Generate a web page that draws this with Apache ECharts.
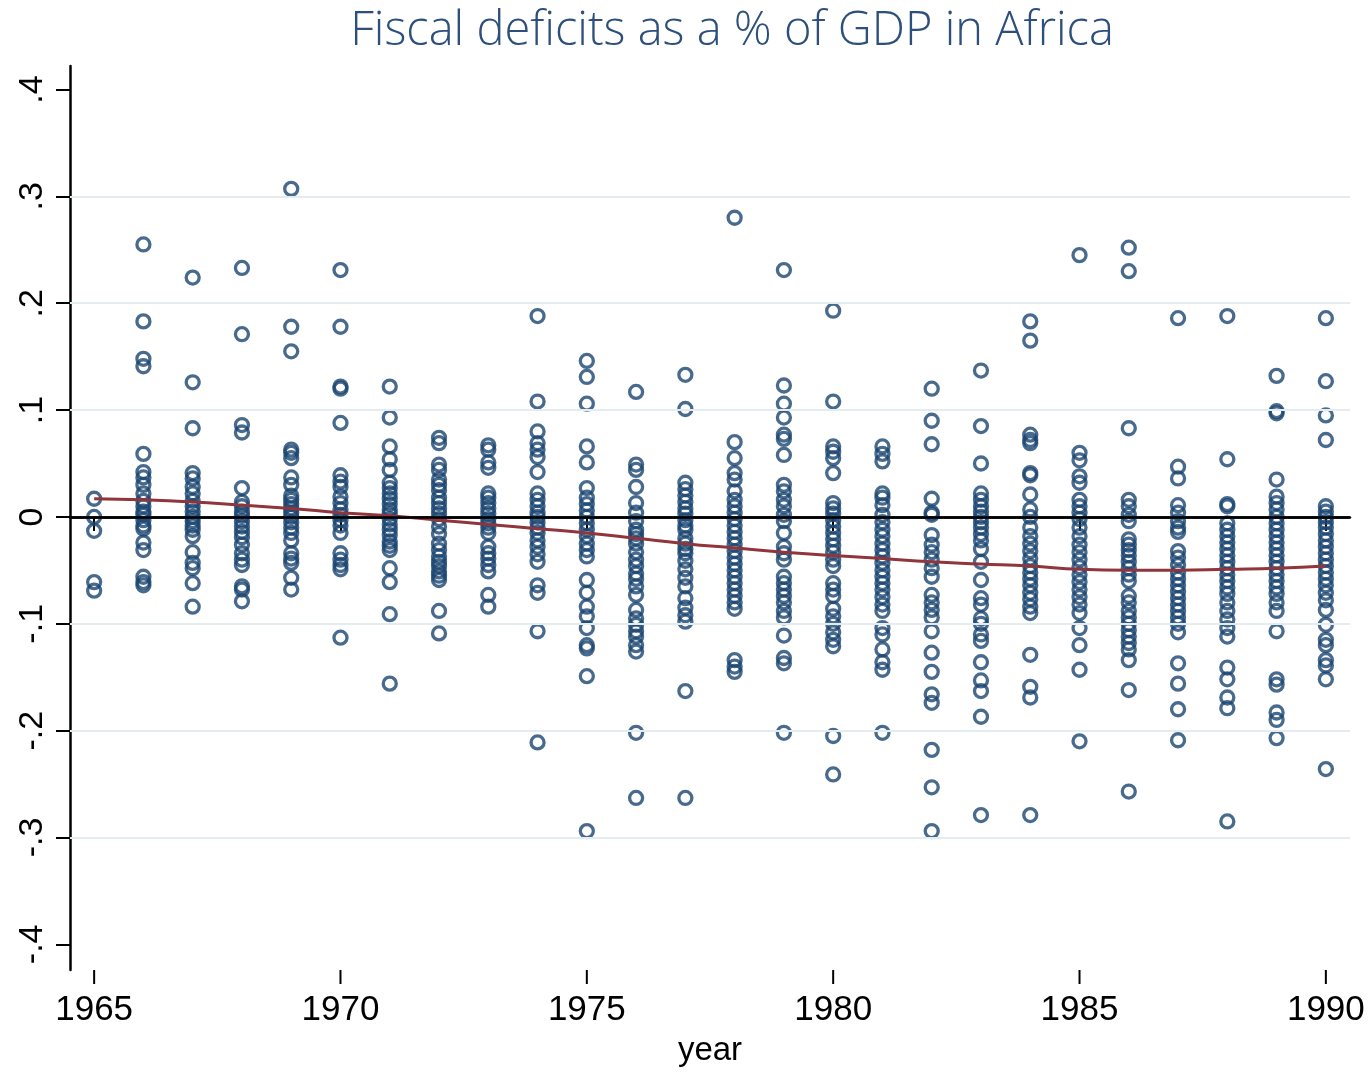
<!DOCTYPE html>
<html>
<head>
<meta charset="utf-8">
<script src="https://cdn.jsdelivr.net/npm/echarts@6/dist/echarts.min.js"></script>
<style>
  html, body { margin: 0; padding: 0; background: #fff; }
  #chart { width: 1371px; height: 1073px; }
</style>
</head>
<body>
<div id="chart"></div>
<script>
// years on the x axis
const years = [1965, 1966, 1967, 1968, 1969, 1970, 1971, 1972, 1973, 1974, 1975, 1976, 1977,
  1978, 1979, 1980, 1981, 1982, 1983, 1984, 1985, 1986, 1987, 1988, 1989, 1990]

// one list of country deficits (share of GDP) per year
const deficits = [
  [0.017, 0, -0.013, -0.061, -0.069],
  [0.255, 0.183, 0.148, 0.141, 0.059, 0.042, 0.037, 0.030, 0.022, 0.015, 0.010, 0.005, 0.002, -0.003, -0.008, -0.011, -0.024, -0.031, -0.056, -0.061, -0.064],
  [0.224, 0.126, 0.083, 0.041, 0.036, 0.028, 0.022, 0.015, 0.010, 0.005, 0.000, -0.004, -0.008, -0.012, -0.018, -0.033, -0.043, -0.048, -0.062, -0.084],
  [0.233, 0.171, 0.086, 0.079, 0.027, 0.014, 0.010, 0.005, 0.001, -0.004, -0.009, -0.014, -0.019, -0.026, -0.034, -0.040, -0.045, -0.065, -0.068, -0.079],
  [0.307, 0.178, 0.155, 0.063, 0.060, 0.055, 0.037, 0.030, 0.020, 0.016, 0.012, 0.008, 0.004, 0.000, -0.005, -0.010, -0.015, -0.022, -0.034, -0.039, -0.043, -0.057, -0.068],
  [0.231, 0.178, 0.122, 0.120, 0.088, 0.039, 0.033, 0.028, 0.019, 0.013, 0.007, 0.002, -0.003, -0.008, -0.015, -0.034, -0.040, -0.045, -0.049, -0.113],
  [0.122, 0.093, 0.066, 0.054, 0.044, 0.032, 0.027, 0.022, 0.017, 0.012, 0.007, 0.003, -0.002, -0.007, -0.012, -0.017, -0.023, -0.027, -0.031, -0.048, -0.061, -0.091, -0.156],
  [0.074, 0.069, 0.049, 0.044, 0.035, 0.030, 0.025, 0.018, 0.013, 0.008, 0.003, -0.002, -0.009, -0.016, -0.025, -0.031, -0.037, -0.042, -0.046, -0.051, -0.055, -0.059, -0.088, -0.109],
  [0.067, 0.063, 0.051, 0.046, 0.022, 0.018, 0.013, 0.008, 0.003, -0.002, -0.006, -0.010, -0.015, -0.028, -0.034, -0.039, -0.045, -0.051, -0.073, -0.084],
  [0.188, 0.108, 0.080, 0.069, 0.063, 0.056, 0.042, 0.022, 0.016, 0.010, 0.004, 0.000, -0.005, -0.010, -0.015, -0.022, -0.028, -0.035, -0.042, -0.064, -0.071, -0.107, -0.211],
  [0.146, 0.131, 0.106, 0.066, 0.051, 0.027, 0.018, 0.012, 0.006, 0.000, -0.006, -0.012, -0.018, -0.025, -0.031, -0.037, -0.059, -0.071, -0.084, -0.093, -0.104, -0.120, -0.123, -0.149, -0.294],
  [0.117, 0.049, 0.044, 0.028, 0.013, 0.004, -0.004, -0.012, -0.016, -0.020, -0.025, -0.033, -0.040, -0.046, -0.053, -0.058, -0.065, -0.073, -0.087, -0.095, -0.101, -0.107, -0.112, -0.120, -0.126, -0.202, -0.263],
  [0.133, 0.101, 0.032, 0.026, 0.020, 0.014, 0.008, 0.003, -0.003, -0.008, -0.012, -0.020, -0.025, -0.030, -0.034, -0.041, -0.049, -0.057, -0.065, -0.076, -0.085, -0.092, -0.098, -0.163, -0.263],
  [0.280, 0.070, 0.055, 0.041, 0.035, 0.024, 0.016, 0.010, 0.004, -0.002, -0.008, -0.014, -0.020, -0.026, -0.032, -0.038, -0.044, -0.050, -0.056, -0.062, -0.068, -0.074, -0.080, -0.086, -0.134, -0.140, -0.145],
  [0.231, 0.123, 0.106, 0.093, 0.077, 0.073, 0.058, 0.030, 0.024, 0.016, 0.010, 0.002, -0.004, -0.015, -0.028, -0.034, -0.040, -0.056, -0.062, -0.068, -0.074, -0.080, -0.088, -0.094, -0.111, -0.132, -0.137, -0.202],
  [0.193, 0.108, 0.066, 0.061, 0.055, 0.041, 0.013, 0.008, 0.003, -0.003, -0.009, -0.015, -0.021, -0.027, -0.033, -0.040, -0.046, -0.062, -0.068, -0.074, -0.086, -0.093, -0.100, -0.108, -0.115, -0.121, -0.205, -0.241],
  [0.066, 0.059, 0.052, 0.022, 0.018, 0.011, 0.002, -0.005, -0.012, -0.018, -0.025, -0.031, -0.037, -0.043, -0.050, -0.056, -0.062, -0.068, -0.075, -0.082, -0.088, -0.104, -0.110, -0.124, -0.136, -0.143, -0.202],
  [0.120, 0.090, 0.068, 0.017, 0.004, 0.002, -0.017, -0.026, -0.033, -0.040, -0.048, -0.056, -0.073, -0.080, -0.087, -0.094, -0.107, -0.127, -0.145, -0.166, -0.174, -0.218, -0.253, -0.294],
  [0.137, 0.085, 0.050, 0.022, 0.016, 0.010, 0.005, 0.000, -0.005, -0.010, -0.016, -0.022, -0.030, -0.042, -0.059, -0.076, -0.082, -0.095, -0.100, -0.110, -0.116, -0.136, -0.153, -0.163, -0.187, -0.279],
  [0.183, 0.165, 0.077, 0.072, 0.069, 0.041, 0.039, 0.021, 0.007, 0.000, -0.010, -0.018, -0.025, -0.032, -0.039, -0.046, -0.052, -0.058, -0.064, -0.071, -0.077, -0.084, -0.090, -0.129, -0.159, -0.169, -0.279],
  [0.245, 0.060, 0.053, 0.038, 0.032, 0.016, 0.010, 0.004, -0.002, -0.010, -0.018, -0.026, -0.033, -0.040, -0.047, -0.054, -0.061, -0.068, -0.075, -0.082, -0.090, -0.104, -0.120, -0.143, -0.210],
  [0.252, 0.230, 0.083, 0.016, 0.010, 0.002, -0.004, -0.021, -0.026, -0.031, -0.036, -0.042, -0.048, -0.054, -0.060, -0.074, -0.080, -0.088, -0.094, -0.100, -0.106, -0.112, -0.118, -0.124, -0.134, -0.162, -0.257],
  [0.186, 0.047, 0.036, 0.011, 0.004, -0.004, -0.010, -0.014, -0.032, -0.038, -0.045, -0.052, -0.058, -0.064, -0.070, -0.076, -0.082, -0.088, -0.094, -0.100, -0.108, -0.137, -0.156, -0.180, -0.209],
  [0.188, 0.054, 0.012, 0.010, -0.006, -0.012, -0.018, -0.024, -0.030, -0.036, -0.042, -0.048, -0.054, -0.060, -0.066, -0.072, -0.080, -0.088, -0.096, -0.104, -0.112, -0.141, -0.152, -0.169, -0.179, -0.285],
  [0.132, 0.099, 0.097, 0.035, 0.019, 0.013, 0.007, 0.000, -0.006, -0.012, -0.018, -0.024, -0.030, -0.036, -0.042, -0.048, -0.054, -0.060, -0.066, -0.072, -0.080, -0.088, -0.107, -0.152, -0.157, -0.183, -0.190, -0.207],
  [0.186, 0.127, 0.095, 0.072, 0.010, 0.005, 0.000, -0.005, -0.010, -0.016, -0.022, -0.028, -0.034, -0.040, -0.046, -0.052, -0.058, -0.064, -0.071, -0.078, -0.087, -0.101, -0.115, -0.120, -0.134, -0.139, -0.152, -0.236]
]

// smoothed fit
const trend = [0.017, 0.016, 0.014, 0.011, 0.008, 0.004, 0.001, -0.003, -0.007, -0.011, -0.015, -0.020, -0.025,
  -0.029, -0.033, -0.036, -0.039, -0.042, -0.044, -0.046, -0.049, -0.050, -0.050, -0.049, -0.048, -0.046]

const xTicks = [1965, 1970, 1975, 1980, 1985, 1990]
const yTicks = [-0.4, -0.3, -0.2, -0.1, 0, 0.1, 0.2, 0.3, 0.4]
const gridVals = [-0.3, -0.2, -0.1, 0.1, 0.2, 0.3]

const Y_MIN = -0.424
const Y_MAX = 0.422

const points = []
years.forEach((yr, i) => {
  deficits[i].forEach(v => points.push([yr, v]))
})

// stata style label: .4, -.3, 0
function stataFmt (v) {
  if (Math.abs(v) < 1e-9) return '0'
  const s = Math.abs(v).toFixed(1).replace(/^0/, '')
  return (v < 0 ? '-' : '') + s
}

const chart = echarts.init(document.getElementById('chart'))
const option = {
  animation: false,
  title: {
    text: 'Fiscal deficits as a % of GDP in Africa',
    left: 727,
    top: 3,
    textAlign: 'center',
    textStyle: {
      fontFamily: 'Open Sans',
      fontWeight: 300,
      fontSize: 47,
      color: '#2c4f7c'
    }
  },
  grid: {
    left: 70,
    top: 66,
    width: 1280,
    height: 904,
    containLabel: false,
    outerBoundsMode: 'none'
  },
  xAxis: {
    type: 'value',
    min: 1964.51,
    max: 1990.49,
    name: 'year',
    nameLocation: 'middle',
    nameGap: 64,
    nameTextStyle: { fontFamily: 'Liberation Sans', fontSize: 33, color: '#000' },
    axisLine: { show: true, lineStyle: { color: '#000', width: 2.5 } },
    axisTick: { show: true, inside: false, length: 14, customValues: xTicks, lineStyle: { color: '#000', width: 2 } },
    axisLabel: {
      customValues: xTicks,
      margin: 23,
      fontFamily: 'Liberation Sans',
      fontSize: 35,
      color: '#000',
      formatter: v => String(v)
    },
    splitLine: { show: false }
  },
  yAxis: {
    type: 'value',
    min: Y_MIN,
    max: Y_MAX,
    axisLine: { show: true, lineStyle: { color: '#000', width: 2.5 } },
    axisTick: { show: true, length: 14, customValues: yTicks, lineStyle: { color: '#000', width: 2 } },
    axisLabel: {
      customValues: yTicks,
      rotate: 90,
      margin: 20,
      fontFamily: 'Liberation Sans',
      fontSize: 34,
      color: '#000',
      formatter: stataFmt
    },
    splitLine: { show: false }
  },
  series: [
    {
      type: 'scatter',
      data: points,
      symbol: 'circle',
      symbolSize: 13,
      itemStyle: {
        color: 'transparent',
        borderColor: '#1a4570',
        borderWidth: 3.3
      },
      z: 3,
      markLine: {
        silent: true,
        symbol: ['none', 'none'],
        label: { show: false },
        data: gridVals.map(v => ({ yAxis: v, lineStyle: { color: '#e3ecef', width: 2, type: 'solid' } }))
          .concat([{ yAxis: 0, lineStyle: { color: '#000', width: 2.5, type: 'solid' } }])
      }
    },
    {
      type: 'line',
      data: years.map((yr, i) => [yr, trend[i]]),
      smooth: true,
      symbol: 'none',
      lineStyle: { color: '#90353b', width: 3 },
      z: 4
    }
  ]
}
chart.setOption(option)

// year ticks below the x axis, placed through the axis scale
const axisY = chart.convertToPixel({ yAxisIndex: 0 }, Y_MIN)
chart.setOption({
  graphic: xTicks.map(t => {
    const px = chart.convertToPixel({ xAxisIndex: 0 }, t)
    return {
      type: 'line',
      shape: { x1: px, y1: axisY, x2: px, y2: axisY + 14 },
      style: { stroke: '#000', lineWidth: 2 },
      silent: true
    }
  })
})
</script>
</body>
</html>
